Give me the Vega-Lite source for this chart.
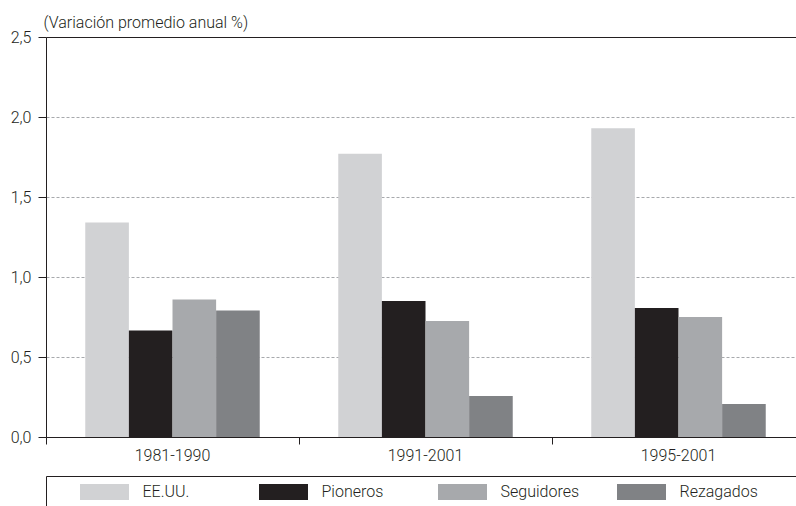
{
  "$schema": "https://vega.github.io/schema/vega-lite/v6.json",
  "autosize": "none",
  "width": 750,
  "height": 400,
  "padding": {"left": 46, "top": 37, "right": 0, "bottom": 69},
  "background": "white",
  "config": {
    "font": "Roboto",
    "view": {"stroke": null},
    "axis": {"labelFont": "Roboto", "labelFontWeight": 300, "titleFont": "Roboto", "labelColor": "#231f20", "titleColor": "#231f20"},
    "legend": {"labelFont": "Roboto", "titleFont": "Roboto"}
  },
  "data": {
    "values": [
      {"periodo": "1981-1990", "grupo": "EE.UU.", "valor": 1.34},
      {"periodo": "1981-1990", "grupo": "Pioneros", "valor": 0.665},
      {"periodo": "1981-1990", "grupo": "Seguidores", "valor": 0.86},
      {"periodo": "1981-1990", "grupo": "Rezagados", "valor": 0.79},
      {"periodo": "1991-2001", "grupo": "EE.UU.", "valor": 1.77},
      {"periodo": "1991-2001", "grupo": "Pioneros", "valor": 0.85},
      {"periodo": "1991-2001", "grupo": "Seguidores", "valor": 0.725},
      {"periodo": "1991-2001", "grupo": "Rezagados", "valor": 0.256},
      {"periodo": "1995-2001", "grupo": "EE.UU.", "valor": 1.93},
      {"periodo": "1995-2001", "grupo": "Pioneros", "valor": 0.806},
      {"periodo": "1995-2001", "grupo": "Seguidores", "valor": 0.75},
      {"periodo": "1995-2001", "grupo": "Rezagados", "valor": 0.206}
    ]
  },
  "mark": {"type": "bar"},
  "encoding": {
    "x": {
      "field": "periodo", "type": "nominal",
      "sort": ["1981-1990", "1991-2001", "1995-2001"],
      "scale": {"range": [0, 759], "paddingInner": 0, "paddingOuter": 0},
      "axis": {
        "title": null, "labelAngle": 0, "bandPosition": 0, "tickSize": 7,
        "domainColor": "#231f20", "tickColor": "#231f20", "domainWidth": 1, "tickWidth": 1,
        "labelFontSize": 16, "labelPadding": 3, "grid": false
      }
    },
    "xOffset": {
      "field": "grupo", "type": "nominal",
      "sort": ["EE.UU.", "Pioneros", "Seguidores", "Rezagados"],
      "scale": {"paddingInner": 0, "paddingOuter": 0.9}
    },
    "y": {
      "field": "valor", "type": "quantitative",
      "scale": {"domain": [0, 2.5], "nice": false},
      "axis": {
        "values": [0, 0.5, 1, 1.5, 2, 2.5],
        "labelExpr": "replace(format(datum.value, '.1f'), '.', ',')",
        "title": "(Variación promedio anual %)",
        "titleAngle": 0, "titleX": -3, "titleY": -10, "titleAlign": "left", "titleBaseline": "alphabetic",
        "titleFontSize": 16, "titleFontWeight": 300,
        "labelFontSize": 16, "labelPadding": 7, "tickSize": 8,
        "domainColor": "#231f20", "tickColor": "#231f20", "domainWidth": 1, "tickWidth": 1,
        "grid": true,
        "gridColor": {"condition": {"test": "datum.value === 2.5", "value": "#231f20"}, "value": "#a7a9ac"},
        "gridDash": {"condition": {"test": "datum.value === 2.5", "value": []}, "value": [3, 2]},
        "gridWidth": 1
      }
    },
    "color": {
      "field": "grupo", "type": "nominal",
      "sort": ["EE.UU.", "Pioneros", "Seguidores", "Rezagados"],
      "scale": {"domain": ["EE.UU.", "Pioneros", "Seguidores", "Rezagados"], "range": ["#d1d2d4", "#231f20", "#a7a9ac", "#808285"]},
      "legend": {
        "orient": "none", "legendX": 0, "legendY": 439,
        "direction": "horizontal", "columns": 4, "gridAlign": "all",
        "strokeColor": "#231f20", "padding": 8,
        "symbolType": "M-3.0625,-1H3.0625V1H-3.0625Z", "symbolSize": 256,
        "symbolStrokeWidth": 0, "symbolOpacity": 1, "symbolOffset": 42.5,
        "labelOffset": 30, "labelFontSize": 16, "labelFontWeight": 300, "labelColor": "#231f20",
        "columnPadding": 11,
        "title": " ", "titleOrient": "right", "titlePadding": 60, "titleFontSize": 14
      }
    }
  }
}
